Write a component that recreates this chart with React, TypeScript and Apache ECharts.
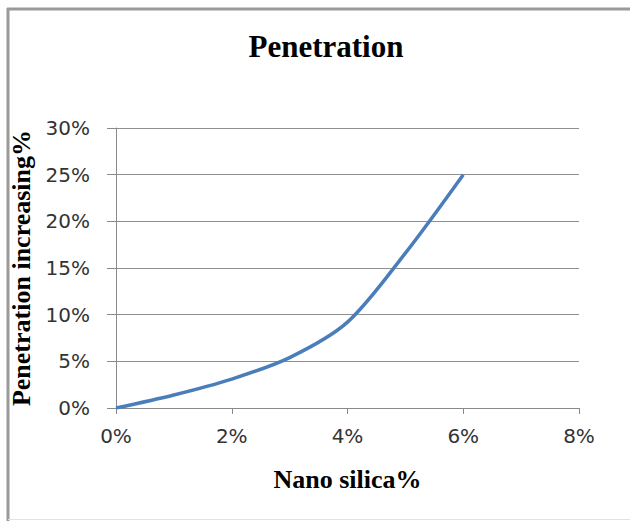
import React, { useEffect, useRef } from "react";
import * as echarts from "echarts";

const nanoSilica = [0, 0.01, 0.02, 0.03, 0.04, 0.05, 0.06];
const penetrationIncrease = [0, 0.014, 0.031, 0.054, 0.092, 0.166, 0.25];
const xTicks = { min: 0, max: 0.08, interval: 0.02 };
const yTicks = { min: 0, max: 0.3, interval: 0.05 };

const pct = (v: number) => `${Math.round(v * 100)}%`;

export default function App() {
  const ref = useRef<HTMLDivElement>(null);
  useEffect(() => {
    if (!ref.current) return;
    const chart = echarts.init(ref.current, null, { renderer: "svg" });
    const tickFont = { fontFamily: "DejaVu Sans", fontSize: 20, color: "#333" };
    const titleFont = { fontFamily: "Liberation Serif", fontWeight: "bold" as const, color: "#000" };
    chart.setOption({
      animation: false,
      backgroundColor: "#fff",
      title: {
        text: "Penetration",
        left: 321,
        textAlign: "center",
        top: 26,
        textStyle: { ...titleFont, fontSize: 31 },
      },
      grid: { left: 116, right: 51, top: 128, bottom: 113 },
      xAxis: {
        type: "value",
        min: xTicks.min,
        max: xTicks.max,
        interval: xTicks.interval,
        name: "Nano silica%",
        nameLocation: "middle",
        nameGap: 58,
        nameTextStyle: { ...titleFont, fontSize: 26 },
        axisLine: { show: true, lineStyle: { color: "#8a8a8a", width: 1 } },
        axisTick: { show: true, length: 6, lineStyle: { color: "#8a8a8a" } },
        axisLabel: { ...tickFont, margin: 18, formatter: pct },
        splitLine: { show: false },
      },
      yAxis: {
        type: "value",
        min: yTicks.min,
        max: yTicks.max,
        interval: yTicks.interval,
        name: "Penetration increasing%",
        nameLocation: "middle",
        nameGap: 70,
        nameTextStyle: { ...titleFont, fontSize: 26 },
        axisLine: { show: true, lineStyle: { color: "#8a8a8a", width: 1 } },
        axisTick: { show: true, length: 9, lineStyle: { color: "#8a8a8a" } },
        axisLabel: { ...tickFont, margin: 26, formatter: pct },
        splitLine: { show: true, lineStyle: { color: "#8f8f8f", width: 1.2 } },
      },
      series: [
        {
          type: "line",
          data: nanoSilica.map((x, i) => [x, penetrationIncrease[i]]),
          smooth: 0.3,
          showSymbol: false,
          lineStyle: { color: "#4a7ebb", width: 3.5 },
        },
      ],
      graphic: [
        { type: "line", shape: { x1: 8, y1: 8, x2: 8, y2: 521 }, style: { stroke: "#9a9a9a", lineWidth: 3 } },
        { type: "line", shape: { x1: 7, y1: 9, x2: 630, y2: 9 }, style: { stroke: "#9a9a9a", lineWidth: 3 } },
        { type: "line", shape: { x1: 8, y1: 519.5, x2: 630, y2: 519.5 }, style: { stroke: "#e2e2e2", lineWidth: 1 } },
      ],
    });
    return () => chart.dispose();
  }, []);
  return (
    <div
      ref={ref}
      style={{ position: "fixed", left: 0, top: 0, width: 630, height: 521 }}
    />
  );
}
